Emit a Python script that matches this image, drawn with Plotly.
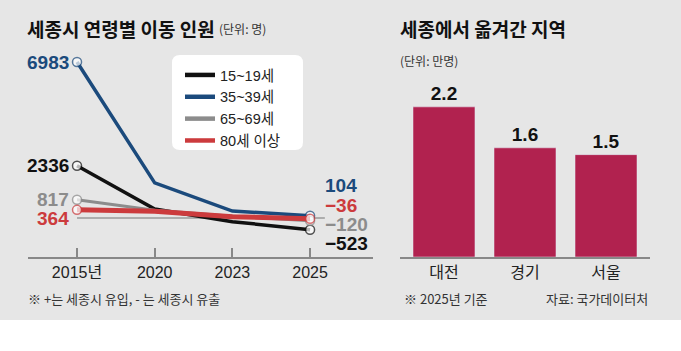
import plotly.graph_objects as go

W, H = 681, 351

years = ["2015년", "2020", "2023", "2025"]
series_names = ["15~19세", "35~39세", "65~69세", "80세 이상"]
s_15_19 = [2336, 400, -165, -523]
s_35_39 = [6983, 1570, 310, 104]
s_65_69 = [817, 350, 80, -120]
s_80 = [364, 300, 60, -36]
series_values = [s_15_19, s_35_39, s_65_69, s_80]
series_colors = ["#111111", "#1b4a7c", "#8c8c8c", "#cc3b3d"]
series_widths = [3.5, 3.5, 3, 5]
# label shifts (pixel offsets for the start/end value labels)
start_yshift = [0, 0, 0, -9]
end_yshift = [-14, 30, -4, 13]

regions = ["대전", "경기", "서울"]
region_values = [2.2, 1.6, 1.5]
bar_color = "#b1224f"

FONT = "Liberation Sans, Arial, Noto Sans CJK KR, sans-serif"
KFONT = "Noto Sans CJK KR, Liberation Sans, sans-serif"

def px_x(p):
    return p / W

def px_y(p):
    return 1 - p / H

fig = go.Figure()

x_idx = list(range(len(years)))
for name, vals, col, lw in zip(series_names, series_values, series_colors, series_widths):
    sizes = [9 if i in (0, len(vals) - 1) else 0 for i in range(len(vals))]
    fig.add_trace(go.Scatter(
        x=x_idx, y=vals, name=name, mode="lines+markers",
        line=dict(color=col, width=lw),
        marker=dict(size=sizes, color="white", line=dict(color=col, width=1.5)),
        xaxis="x", yaxis="y", cliponaxis=False, showlegend=False,
    ))
# legend entries (lines only)
for name, col in zip(series_names, series_colors):
    fig.add_trace(go.Scatter(
        x=[None], y=[None], name=name, mode="lines",
        line=dict(color=col, width=4.5), xaxis="x", yaxis="y", showlegend=True,
    ))

fig.add_trace(go.Bar(
    x=list(range(len(regions))), y=region_values, marker_color=bar_color,
    width=0.765, texttemplate="<b>%{y:.1f}</b>", textposition="outside",
    textfont=dict(family=FONT, size=19, color="#111111"),
    xaxis="x2", yaxis="y2", cliponaxis=False, showlegend=False,
))

annotations = []
for k, (vals, col) in enumerate(zip(series_values, series_colors)):
    annotations.append(dict(
        x=0, y=vals[0], xref="x", yref="y", text=f"<b>{vals[0]}</b>",
        xanchor="right", yanchor="middle", xshift=-6, yshift=start_yshift[k],
        showarrow=False, font=dict(family=FONT, size=19, color=col),
    ))
    v = vals[-1]
    txt = f"{v}" if v >= 0 else f"−{abs(v)}"
    annotations.append(dict(
        x=len(vals) - 1, y=v, xref="x", yref="y", text=f"<b>{txt}</b>",
        xanchor="left", yanchor="middle", xshift=13, yshift=end_yshift[k],
        showarrow=False, font=dict(family=FONT, size=19, color=col),
    ))

annotations += [
    dict(x=px_x(25), y=px_y(28), xref="paper", yref="paper", text="<b>세종시 연령별 이동 인원</b>",
         xanchor="left", yanchor="middle", showarrow=False, font=dict(family=KFONT, size=19, color="#111")),
    dict(x=px_x(217), y=px_y(29), xref="paper", yref="paper", text="(단위: 명)",
         xanchor="left", yanchor="middle", showarrow=False, font=dict(family=KFONT, size=12, color="#333")),
    dict(x=px_x(398), y=px_y(28), xref="paper", yref="paper", text="<b>세종에서 옮겨간 지역</b>",
         xanchor="left", yanchor="middle", showarrow=False, font=dict(family=KFONT, size=19, color="#111")),
    dict(x=px_x(398), y=px_y(60), xref="paper", yref="paper", text="(단위: 만명)",
         xanchor="left", yanchor="middle", showarrow=False, font=dict(family=KFONT, size=12, color="#333")),
    dict(x=px_x(26), y=px_y(298), xref="paper", yref="paper", text="※ +는 세종시 유입, - 는 세종시 유출",
         xanchor="left", yanchor="middle", showarrow=False, font=dict(family=KFONT, size=13, color="#333")),
    dict(x=px_x(402), y=px_y(298), xref="paper", yref="paper", text="※ 2025년 기준",
         xanchor="left", yanchor="middle", showarrow=False, font=dict(family=KFONT, size=13, color="#333")),
    dict(x=px_x(650), y=px_y(298), xref="paper", yref="paper", text="자료: 국가데이터처",
         xanchor="right", yanchor="middle", showarrow=False, font=dict(family=KFONT, size=13, color="#333")),
]

shapes = [
    dict(type="rect", xref="paper", yref="paper", x0=0, x1=1, y0=px_y(320), y1=1,
         fillcolor="#e6e6e6", line=dict(width=0), layer="below"),
    dict(type="path", xref="paper", yref="paper", layer="below",
         path=(f"M {px_x(180)},{px_y(55)} L {px_x(295)},{px_y(55)} "
               f"Q {px_x(303)},{px_y(55)} {px_x(303)},{px_y(63)} "
               f"L {px_x(303)},{px_y(142)} Q {px_x(303)},{px_y(150)} {px_x(295)},{px_y(150)} "
               f"L {px_x(180)},{px_y(150)} Q {px_x(172)},{px_y(150)} {px_x(172)},{px_y(142)} "
               f"L {px_x(172)},{px_y(63)} Q {px_x(172)},{px_y(55)} {px_x(180)},{px_y(55)} Z"),
         fillcolor="white", line=dict(width=0)),
    dict(type="line", xref="x", yref="y", x0=0, x1=3.19, y0=0, y1=0,
         line=dict(color="#9a9a9a", width=1.5), layer="below"),
]

ydom = [px_y(257), px_y(40)]
fig.update_layout(
    width=W, height=H, margin=dict(l=0, r=0, t=0, b=0),
    paper_bgcolor="white", plot_bgcolor="rgba(0,0,0,0)",
    showlegend=True,
    legend=dict(x=px_x(180), y=px_y(59), xanchor="left", yanchor="top",
                bgcolor="rgba(0,0,0,0)", borderwidth=0, itemwidth=30,
                font=dict(family=FONT, size=14.5, color="#222"), tracegroupgap=0),
    xaxis=dict(domain=[px_x(28), px_x(373)], range=[-0.631, 3.81],
               tickmode="array", tickvals=x_idx, ticktext=years,
               ticks="inside", ticklen=9, tickwidth=1.5, tickcolor="#888",
               showline=True, linecolor="#888", linewidth=1.5, showgrid=False, zeroline=False,
               tickfont=dict(family=FONT, size=16, color="#222"), fixedrange=True),
    yaxis=dict(domain=ydom, range=[-1746, 7968], visible=False, fixedrange=True),
    xaxis2=dict(domain=[px_x(400), px_x(650)], range=[-0.543, 2.543], anchor="y2",
                tickmode="array", tickvals=list(range(len(regions))), ticktext=regions,
                ticks="", showline=True, linecolor="#888", linewidth=1.5, showgrid=False, zeroline=False,
                tickfont=dict(family=KFONT, size=16, color="#222"), fixedrange=True),
    yaxis2=dict(domain=ydom, range=[0, 3.18], anchor="x2", visible=False, fixedrange=True),
    annotations=annotations, shapes=shapes,
)

fig.write_html("out.html")
